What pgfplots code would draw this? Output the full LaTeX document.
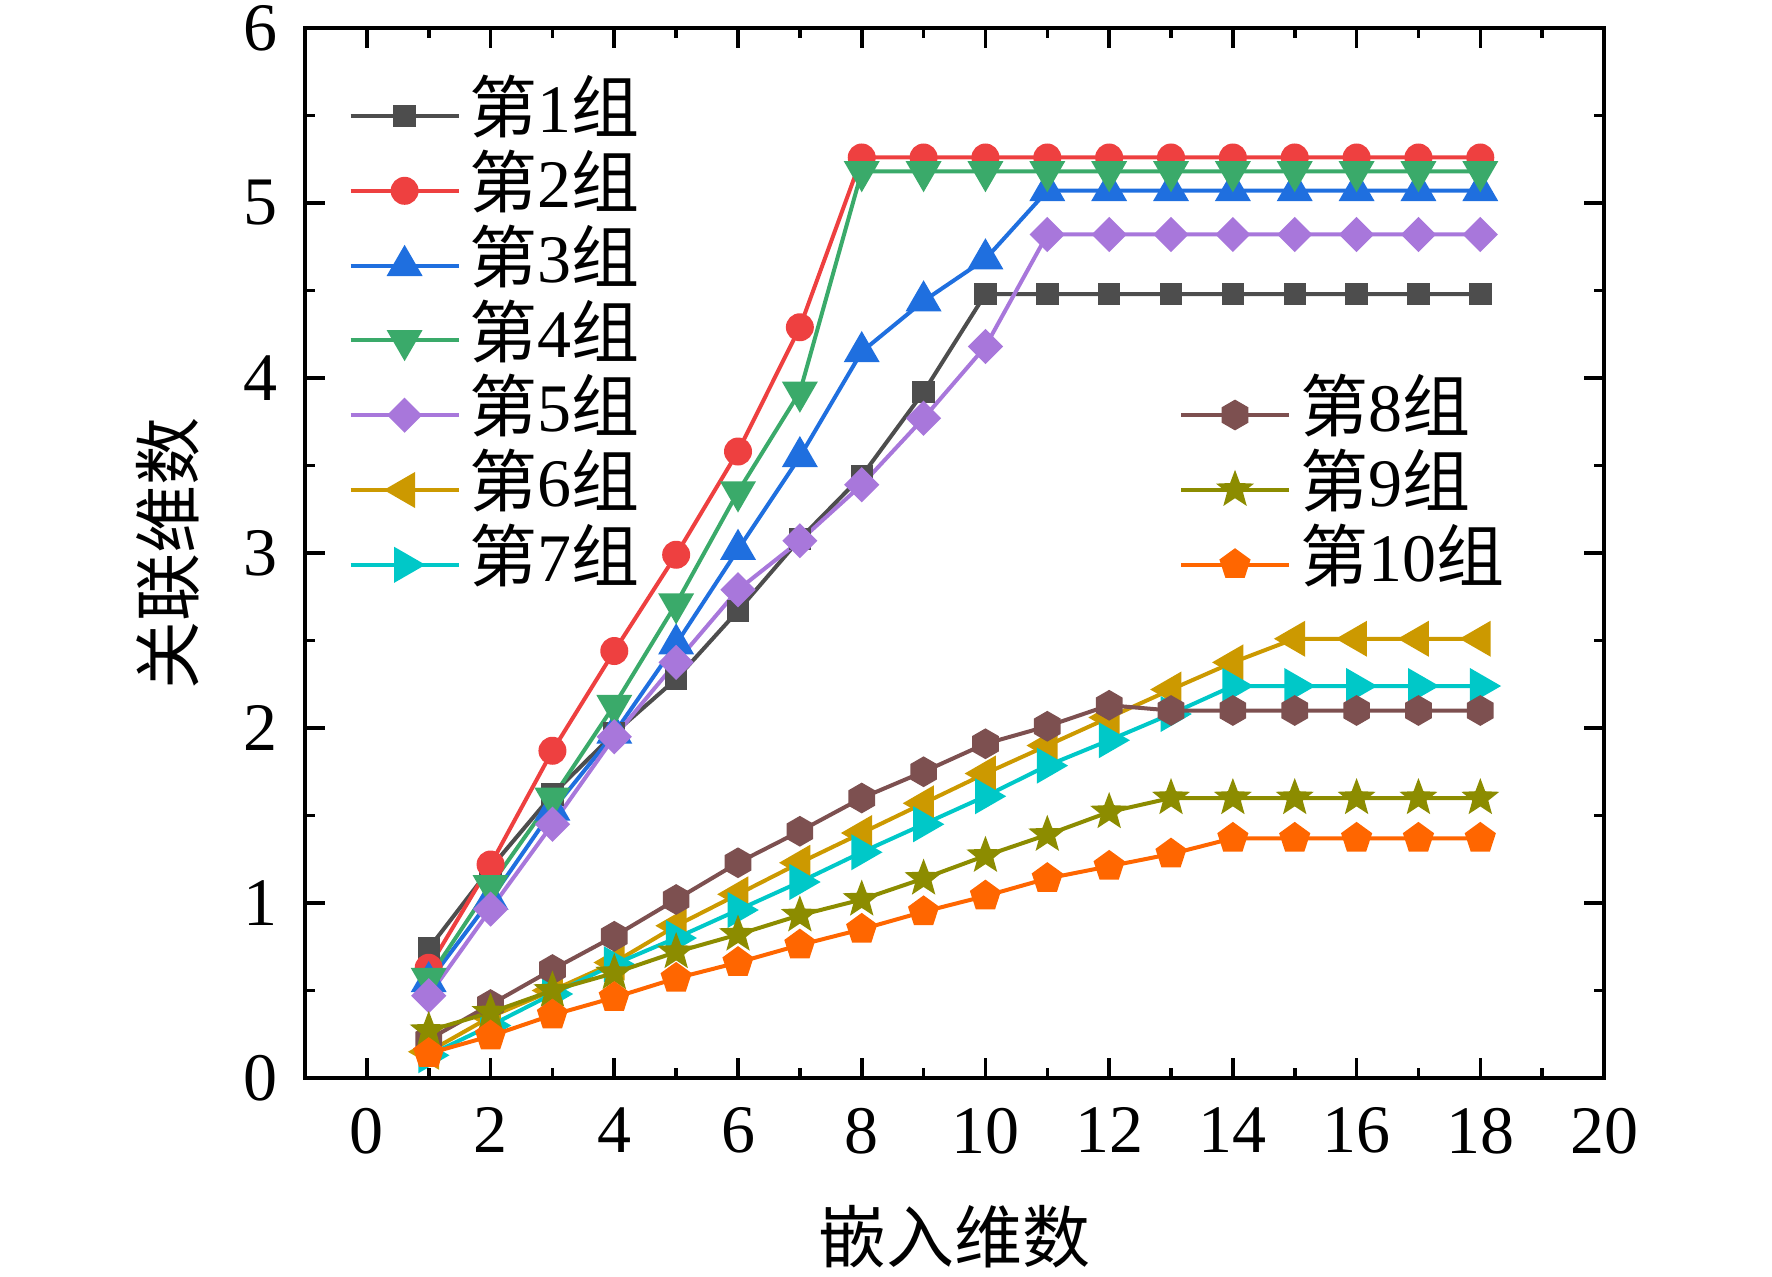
\documentclass[border=0pt]{standalone}
\usepackage{fontspec}
\setmainfont{Liberation Serif}
\newfontfamily\cjk{Noto Sans CJK SC}
\usepackage{pgfplots}
\pgfplotsset{compat=1.18}
\usetikzlibrary{plotmarks}

\pgfdeclareplotmark{msq}{\pgfpathrectangle{\pgfqpoint{-\pgfplotmarksize}{-\pgfplotmarksize}}{\pgfqpoint{2\pgfplotmarksize}{2\pgfplotmarksize}}\pgfusepathqfill}
\pgfdeclareplotmark{mci}{\pgfpathcircle{\pgfpointorigin}{\pgfplotmarksize}\pgfusepathqfill}
\pgfdeclareplotmark{mtu}{\pgfpathmoveto{\pgfqpointpolar{90}{\pgfplotmarksize}}\pgfpathlineto{\pgfqpointpolar{210}{\pgfplotmarksize}}\pgfpathlineto{\pgfqpointpolar{330}{\pgfplotmarksize}}\pgfpathclose\pgfusepathqfill}
\pgfdeclareplotmark{mtd}{\pgfpathmoveto{\pgfqpointpolar{270}{\pgfplotmarksize}}\pgfpathlineto{\pgfqpointpolar{30}{\pgfplotmarksize}}\pgfpathlineto{\pgfqpointpolar{150}{\pgfplotmarksize}}\pgfpathclose\pgfusepathqfill}
\pgfdeclareplotmark{mtl}{\pgfpathmoveto{\pgfqpointpolar{180}{\pgfplotmarksize}}\pgfpathlineto{\pgfqpointpolar{300}{\pgfplotmarksize}}\pgfpathlineto{\pgfqpointpolar{60}{\pgfplotmarksize}}\pgfpathclose\pgfusepathqfill}
\pgfdeclareplotmark{mtr}{\pgfpathmoveto{\pgfqpointpolar{0}{\pgfplotmarksize}}\pgfpathlineto{\pgfqpointpolar{120}{\pgfplotmarksize}}\pgfpathlineto{\pgfqpointpolar{240}{\pgfplotmarksize}}\pgfpathclose\pgfusepathqfill}
\pgfdeclareplotmark{mdi}{\pgfpathmoveto{\pgfqpointpolar{90}{\pgfplotmarksize}}\pgfpathlineto{\pgfqpointpolar{180}{\pgfplotmarksize}}\pgfpathlineto{\pgfqpointpolar{270}{\pgfplotmarksize}}\pgfpathlineto{\pgfqpointpolar{0}{\pgfplotmarksize}}\pgfpathclose\pgfusepathqfill}
\pgfdeclareplotmark{mhe}{\pgfpathmoveto{\pgfqpointpolar{90}{\pgfplotmarksize}}\pgfpathlineto{\pgfqpointpolar{150}{\pgfplotmarksize}}\pgfpathlineto{\pgfqpointpolar{210}{\pgfplotmarksize}}\pgfpathlineto{\pgfqpointpolar{270}{\pgfplotmarksize}}\pgfpathlineto{\pgfqpointpolar{330}{\pgfplotmarksize}}\pgfpathlineto{\pgfqpointpolar{30}{\pgfplotmarksize}}\pgfpathclose\pgfusepathqfill}
\pgfdeclareplotmark{mpe}{\pgfpathmoveto{\pgfqpointpolar{90}{\pgfplotmarksize}}\pgfpathlineto{\pgfqpointpolar{162}{\pgfplotmarksize}}\pgfpathlineto{\pgfqpointpolar{234}{\pgfplotmarksize}}\pgfpathlineto{\pgfqpointpolar{306}{\pgfplotmarksize}}\pgfpathlineto{\pgfqpointpolar{18}{\pgfplotmarksize}}\pgfpathclose\pgfusepathqfill}
\pgfdeclareplotmark{mst}{\pgfpathmoveto{\pgfqpointpolar{90}{\pgfplotmarksize}}\pgfpathlineto{\pgfqpointpolar{126}{0.42\pgfplotmarksize}}\pgfpathlineto{\pgfqpointpolar{162}{\pgfplotmarksize}}\pgfpathlineto{\pgfqpointpolar{198}{0.42\pgfplotmarksize}}\pgfpathlineto{\pgfqpointpolar{234}{\pgfplotmarksize}}\pgfpathlineto{\pgfqpointpolar{270}{0.42\pgfplotmarksize}}\pgfpathlineto{\pgfqpointpolar{306}{\pgfplotmarksize}}\pgfpathlineto{\pgfqpointpolar{342}{0.42\pgfplotmarksize}}\pgfpathlineto{\pgfqpointpolar{18}{\pgfplotmarksize}}\pgfpathlineto{\pgfqpointpolar{54}{0.42\pgfplotmarksize}}\pgfpathclose\pgfusepathqfill}

\definecolor{c1}{HTML}{4D4D4D}
\definecolor{c2}{HTML}{EE4040}
\definecolor{c3}{HTML}{1F6FDF}
\definecolor{c4}{HTML}{3AAA6A}
\definecolor{c5}{HTML}{A877DB}
\definecolor{c6}{HTML}{CC9900}
\definecolor{c7}{HTML}{00C8C8}
\definecolor{c8}{HTML}{7D5050}
\definecolor{c9}{HTML}{8C8C00}
\definecolor{c10}{HTML}{FF6600}

\newcommand\zu[1]{{\cjk 第}#1{\cjk 组}}
\newcommand\fs{\fontsize{17}{20}\selectfont}

\pgfplotsset{
  base/.style={
    scale only axis, width=324.75pt, height=262.5pt,
    at={(0,0)}, anchor=south west,
    xmin=-1, xmax=20, ymin=0, ymax=6,
    xtick={0,2,...,20}, ytick={0,1,...,6},
    minor x tick num=1, minor y tick num=1,
    tick align=inside, xtick pos=both, ytick pos=both,
    xticklabel pos=lower, yticklabel pos=left,
    major tick length=5pt, minor tick length=2.5pt,
    every tick/.style={black, line width=0.9pt},
    axis line style={line width=0.9pt, black},
    /pgf/number format/assume math mode=true,
    tick label style={font=\fs},
    xticklabel style={anchor=north, inner sep=0pt, yshift=-7.25pt},
    yticklabel style={anchor=east, inner sep=0pt, xshift=-6.75pt},
    legend image code/.code={\draw[mark repeat=2,mark phase=2,##1] plot coordinates {(0pt,0pt) (13.5pt,0pt) (27pt,0pt)};},
    legend cell align=left,
    legend style={draw=none, fill=none, inner sep=0pt, outer sep=0pt, row sep=0pt, column sep=2.25pt, font=\fs,
      nodes={inner sep=0pt, text height=13.5pt, text depth=5.2pt}},
  },
  s/.style n args={3}{line width=1pt, color=#1, mark=#2, mark size=#3, mark options={solid, fill=#1}},
}

\begin{document}
\begin{tikzpicture}
\begin{axis}[base, name=ax,
  legend style={at={(axis description cs:0,1)}, anchor=north west, xshift=10.9pt, yshift=-12.65pt}]
\addplot[s={c1}{msq}{2.8pt}] coordinates {(1,0.74)(2,1.20)(3,1.62)(4,1.97)(5,2.28)(6,2.67)(7,3.08)(8,3.44)(9,3.92)(10,4.48)(11,4.48)(12,4.48)(13,4.48)(14,4.48)(15,4.48)(16,4.48)(17,4.48)(18,4.48)};
\addlegendentry{\zu{1}}
\addplot[s={c2}{mci}{3.5pt}] coordinates {(1,0.63)(2,1.22)(3,1.87)(4,2.44)(5,2.99)(6,3.58)(7,4.29)(8,5.26)(9,5.26)(10,5.26)(11,5.26)(12,5.26)(13,5.26)(14,5.26)(15,5.26)(16,5.26)(17,5.26)(18,5.26)};
\addlegendentry{\zu{2}}
\addplot[s={c3}{mtu}{5.2pt}] coordinates {(1,0.55)(2,1.02)(3,1.53)(4,1.97)(5,2.48)(6,3.02)(7,3.55)(8,4.15)(9,4.44)(10,4.68)(11,5.07)(12,5.07)(13,5.07)(14,5.07)(15,5.07)(16,5.07)(17,5.07)(18,5.07)};
\addlegendentry{\zu{3}}
\addplot[s={c4}{mtd}{5.2pt}] coordinates {(1,0.57)(2,1.10)(3,1.60)(4,2.13)(5,2.71)(6,3.35)(7,3.92)(8,5.18)(9,5.18)(10,5.18)(11,5.18)(12,5.18)(13,5.18)(14,5.18)(15,5.18)(16,5.18)(17,5.18)(18,5.18)};
\addlegendentry{\zu{4}}
\addplot[s={c5}{mdi}{4.4pt}] coordinates {(1,0.47)(2,0.965)(3,1.45)(4,1.95)(5,2.375)(6,2.79)(7,3.07)(8,3.39)(9,3.77)(10,4.18)(11,4.82)(12,4.82)(13,4.82)(14,4.82)(15,4.82)(16,4.82)(17,4.82)(18,4.82)};
\addlegendentry{\zu{5}}
\addplot[s={c6}{mtl}{5.2pt}] coordinates {(1,0.15)(2,0.35)(3,0.50)(4,0.66)(5,0.87)(6,1.05)(7,1.23)(8,1.40)(9,1.57)(10,1.74)(11,1.90)(12,2.06)(13,2.22)(14,2.375)(15,2.51)(16,2.51)(17,2.51)(18,2.51)};
\addlegendentry{\zu{6}}
\addplot[s={c7}{mtr}{5.2pt}] coordinates {(1,0.13)(2,0.30)(3,0.48)(4,0.65)(5,0.80)(6,0.96)(7,1.12)(8,1.29)(9,1.45)(10,1.61)(11,1.785)(12,1.93)(13,2.08)(14,2.24)(15,2.24)(16,2.24)(17,2.24)(18,2.24)};
\addlegendentry{\zu{7}}
\end{axis}
\begin{axis}[base, hide axis,
  legend style={at={(axis description cs:0,1)}, anchor=north west, xshift=218.5pt, yshift=-87.4pt}]
\addplot[s={c8}{mhe}{3.85pt}] coordinates {(1,0.22)(2,0.42)(3,0.62)(4,0.81)(5,1.02)(6,1.23)(7,1.41)(8,1.60)(9,1.75)(10,1.91)(11,2.01)(12,2.13)(13,2.10)(14,2.10)(15,2.10)(16,2.10)(17,2.10)(18,2.10)};
\addlegendentry{\zu{8}}
\addplot[s={c9}{mst}{5pt}] coordinates {(1,0.27)(2,0.375)(3,0.50)(4,0.60)(5,0.72)(6,0.82)(7,0.93)(8,1.02)(9,1.14)(10,1.27)(11,1.39)(12,1.52)(13,1.60)(14,1.60)(15,1.60)(16,1.60)(17,1.60)(18,1.60)};
\addlegendentry{\zu{9}}
\addplot[s={c10}{mpe}{4.1pt}] coordinates {(1,0.14)(2,0.24)(3,0.36)(4,0.46)(5,0.57)(6,0.66)(7,0.76)(8,0.85)(9,0.95)(10,1.04)(11,1.14)(12,1.21)(13,1.28)(14,1.37)(15,1.37)(16,1.37)(17,1.37)(18,1.37)};
\addlegendentry{\zu{10}}
\end{axis}
\node[font=\fs\cjk, anchor=center] at ([yshift=-39.75pt]ax.south) {嵌入维数};
\node[font=\fs\cjk, anchor=center, rotate=90] at ([xshift=-34.25pt]ax.west) {关联维数};
\pgfresetboundingbox
\path ([xshift=-76.25pt,yshift=-49.5pt]ax.south west) rectangle ([xshift=42pt,yshift=7pt]ax.north east);
\end{tikzpicture}
\end{document}
